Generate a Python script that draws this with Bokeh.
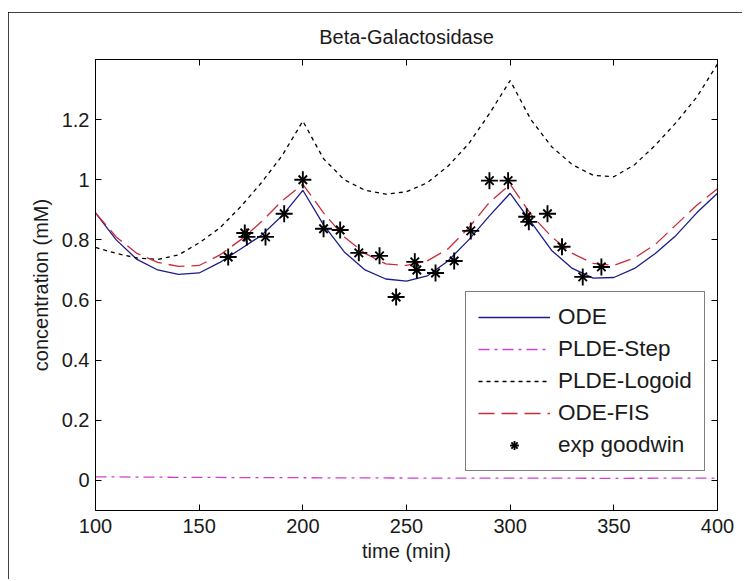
from bokeh.plotting import figure
from bokeh.models import (Range1d, LinearAxis, FixedTicker, Legend, LegendItem,
                          NumeralTickFormatter)
from bokeh.embed import file_html
from bokeh.resources import INLINE

# ---------------- data ----------------
time = [100, 110, 120, 130, 140, 150, 160, 170, 180, 190, 200,
        210, 220, 230, 240, 250, 260, 270, 280, 290, 300,
        310, 320, 330, 340, 350, 360, 370, 380, 390, 400]

ode = [0.890, 0.800, 0.735, 0.700, 0.685, 0.690, 0.725, 0.770, 0.815, 0.880, 0.965,
       0.850, 0.760, 0.700, 0.670, 0.663, 0.680, 0.730, 0.800, 0.880, 0.955,
       0.860, 0.765, 0.705, 0.673, 0.675, 0.705, 0.755, 0.815, 0.890, 0.955]

ode_fis = [0.890, 0.810, 0.755, 0.725, 0.712, 0.715, 0.750, 0.800, 0.860, 0.930, 0.985,
           0.890, 0.810, 0.755, 0.720, 0.715, 0.730, 0.770, 0.840, 0.925, 0.985,
           0.885, 0.810, 0.755, 0.722, 0.715, 0.740, 0.785, 0.850, 0.915, 0.970]

plde_logoid = [0.775, 0.755, 0.740, 0.735, 0.750, 0.790, 0.840, 0.910, 0.990, 1.080, 1.195,
               1.070, 1.000, 0.965, 0.952, 0.960, 0.990, 1.045, 1.120, 1.220, 1.330,
               1.200, 1.110, 1.050, 1.015, 1.010, 1.050, 1.115, 1.190, 1.275, 1.385]

step_time = [100, 150, 200, 250, 300, 350, 400]
plde_step = [0.012, 0.010, 0.009, 0.008, 0.008, 0.007, 0.008]

exp_time = [164, 172, 173, 182, 191, 200, 210, 218, 227, 237, 245, 254, 255,
            264, 273, 281, 290, 299, 308, 309, 318, 325, 335, 344]
exp_goodwin = [0.743, 0.823, 0.810, 0.810, 0.887, 1.000, 0.837, 0.833, 0.757, 0.747,
               0.610, 0.727, 0.700, 0.690, 0.730, 0.830, 0.997, 0.997, 0.877, 0.860,
               0.887, 0.777, 0.677, 0.710]

x_ticks = [100, 150, 200, 250, 300, 350, 400]
y_ticks = [0, 0.2, 0.4, 0.6, 0.8, 1, 1.2]

title_text = "Beta-Galactosidase"
x_label = "time (min)"
y_label = "concentration (mM)"
series_names = ["ODE", "PLDE-Step", "PLDE-Logoid", "ODE-FIS", "exp goodwin"]

# ---------------- styling ----------------
FONT = "Liberation Sans"
FS = "20px"
TXT = "#1a1a1a"

p = figure(width=734, height=567, output_backend="svg", toolbar_location=None,
           x_range=Range1d(100, 400), y_range=Range1d(-0.1, 1.4),
           min_border_left=87, min_border_right=25, min_border_top=40,
           min_border_bottom=69, background_fill_color="white",
           border_fill_color="white")
p.styles = {"margin-left": "8px", "margin-top": "12px",
            "outline": "1px solid black", "outline-offset": "-1px"}

p.title.text = title_text
p.title.text_font = FONT
p.title.text_font_size = FS
p.title.text_font_style = "normal"
p.title.text_color = TXT
p.title.align = "center"
p.title.standoff = 23

p.xgrid.visible = False
p.ygrid.visible = False
p.outline_line_color = "black"
p.outline_line_width = 1

def style_axis(ax, show_labels=True):
    ax.major_tick_in = 6
    ax.major_tick_out = 0
    ax.minor_tick_line_color = None
    ax.axis_line_color = "black"
    ax.major_tick_line_color = "black"
    ax.major_label_text_font = FONT
    if show_labels:
        ax.major_label_text_font_size = FS
        ax.major_label_text_color = TXT
    else:
        ax.major_label_text_font_size = "1px"
        ax.major_label_text_color = None
        ax.major_label_standoff = 0

xa = p.xaxis[0]
xa.ticker = FixedTicker(ticks=x_ticks)
style_axis(xa)
xa.major_label_standoff = 8
xa.axis_label = x_label
xa.axis_label_text_font = FONT
xa.axis_label_text_font_size = FS
xa.axis_label_text_font_style = "normal"
xa.axis_label_text_color = TXT
xa.axis_label_standoff = 4

ya = p.yaxis[0]
ya.ticker = FixedTicker(ticks=y_ticks)
ya.formatter = NumeralTickFormatter(format="0.[0]")
style_axis(ya)
ya.major_label_standoff = 6
ya.axis_label = y_label
ya.axis_label_text_font = FONT
ya.axis_label_text_font_size = FS
ya.axis_label_text_font_style = "normal"
ya.axis_label_text_color = TXT
ya.axis_label_standoff = 7

top = LinearAxis(ticker=FixedTicker(ticks=x_ticks))
style_axis(top, show_labels=False)
p.add_layout(top, "above")
right = LinearAxis(ticker=FixedTicker(ticks=y_ticks))
style_axis(right, show_labels=False)
p.add_layout(right, "right")

# ---------------- glyphs ----------------
r_ode = p.line(time, ode, line_color="#1c1c8a", line_width=1.3)
r_step = p.line(step_time, plde_step, line_color="#d040d0", line_width=1.3,
                line_dash="11 5 3 5")
r_logoid = p.line(time, plde_logoid, line_color="black", line_width=1.3,
                  line_dash="4 4")
r_fis = p.line(time, ode_fis, line_color="#cc2a3a", line_width=1.3,
               line_dash="16 7")
r_s1 = p.scatter(exp_time, exp_goodwin, marker="cross", size=17,
                 line_color="black", line_width=1.9)
r_s2 = p.scatter(exp_time, exp_goodwin, marker="x", size=12,
                 line_color="black", line_width=1.9)

legend = Legend(items=[
    LegendItem(label=series_names[0], renderers=[r_ode]),
    LegendItem(label=series_names[1], renderers=[r_step]),
    LegendItem(label=series_names[2], renderers=[r_logoid]),
    LegendItem(label=series_names[3], renderers=[r_fis]),
    LegendItem(label=series_names[4], renderers=[r_s1, r_s2]),
], location=(370, 39))
legend.label_text_font = FONT
legend.label_text_font_size = "22.5px"
legend.label_text_color = TXT
legend.border_line_color = "black"
legend.border_line_width = 1
legend.background_fill_color = "white"
legend.background_fill_alpha = 1.0
legend.padding = 12
legend.spacing = 6
legend.margin = 0
legend.glyph_width = 72
legend.glyph_height = 22
legend.label_height = 22
legend.label_standoff = 8
p.add_layout(legend, "center")

open("out.html", "w").write(file_html(p, INLINE))
